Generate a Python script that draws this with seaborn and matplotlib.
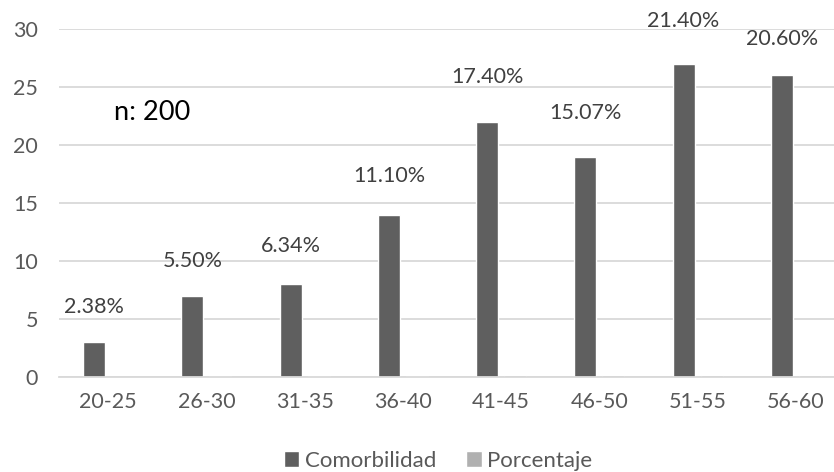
import matplotlib
matplotlib.use("Agg")
import matplotlib.pyplot as plt
import pandas as pd
import seaborn as sns

# Age groups and the two series drawn for each
grupos = ["20-25", "26-30", "31-35", "36-40", "41-45", "46-50", "51-55", "56-60"]
comorbilidad = [3, 7, 8, 14, 22, 19, 27, 26]
porcentaje = [0.0238, 0.055, 0.0634, 0.111, 0.174, 0.1507, 0.214, 0.206]
series = ["Comorbilidad", "Porcentaje"]
y_ticks = [0, 5, 10, 15, 20, 25, 30]
muestra = "n: 200"

# Vertical placement (in data units) of the percentage labels
label_y = [6.0, 10.0, 11.3, 17.3, 25.9, 22.8, 30.7, 29.1]

df = pd.DataFrame({
    "Grupo": grupos * 2,
    "Serie": [series[0]] * len(grupos) + [series[1]] * len(grupos),
    "Valor": comorbilidad + porcentaje,
})

sns.set_theme(style="white")
plt.rcParams["font.family"] = ["Lato", "DejaVu Sans"]

fig = plt.figure(figsize=(8.34, 4.72), dpi=100)
ax = fig.add_axes([59 / 834, 95 / 472, 786 / 834, 348 / 472])

sns.barplot(
    data=df, x="Grupo", y="Valor", hue="Serie", order=grupos, hue_order=series,
    palette=["#5f5f5f", "#b0b0b0"], width=0.57, gap=0.21, saturation=1,
    ax=ax, legend=True,
)

ax.set_ylim(0, 30)
ax.set_xlim(-0.5, len(grupos) - 0.5)
ax.set_yticks(y_ticks)
ax.yaxis.grid(True, color="#d9d9d9", linewidth=1.3)
ax.set_axisbelow(True)
for side in ["top", "right", "left"]:
    ax.spines[side].set_visible(False)
ax.spines["bottom"].set_color("#d9d9d9")
ax.spines["bottom"].set_linewidth(1.3)
ax.set_xlabel("")
ax.set_ylabel("")
ax.tick_params(axis="both", length=0, labelsize=15.5, colors="#595959")
ax.tick_params(axis="y", pad=15)
ax.tick_params(axis="x", pad=11)

# Percentage labels above each age group's count bar
for bar, val, yl in zip(ax.containers[0].patches, porcentaje, label_y):
    ax.text(bar.get_x() + bar.get_width() / 2, yl, f"{val * 100:.2f}%",
            ha="center", va="center", fontsize=15.5, color="#404040")

ax.text(0.447, 22.8, muestra, ha="center", va="center", fontsize=19.5, color="#000000")

handles, labels = ax.get_legend_handles_labels()
ax.get_legend().remove()
fig.legend(handles, labels, loc="center", bbox_to_anchor=(438 / 834, 1 - 461 / 472),
           ncol=2, frameon=False, fontsize=16, labelcolor="#595959",
           handlelength=0.7, handleheight=0.7, handletextpad=0.25,
           columnspacing=1.35, borderpad=0)

fig.savefig("out.png", dpi=100)
